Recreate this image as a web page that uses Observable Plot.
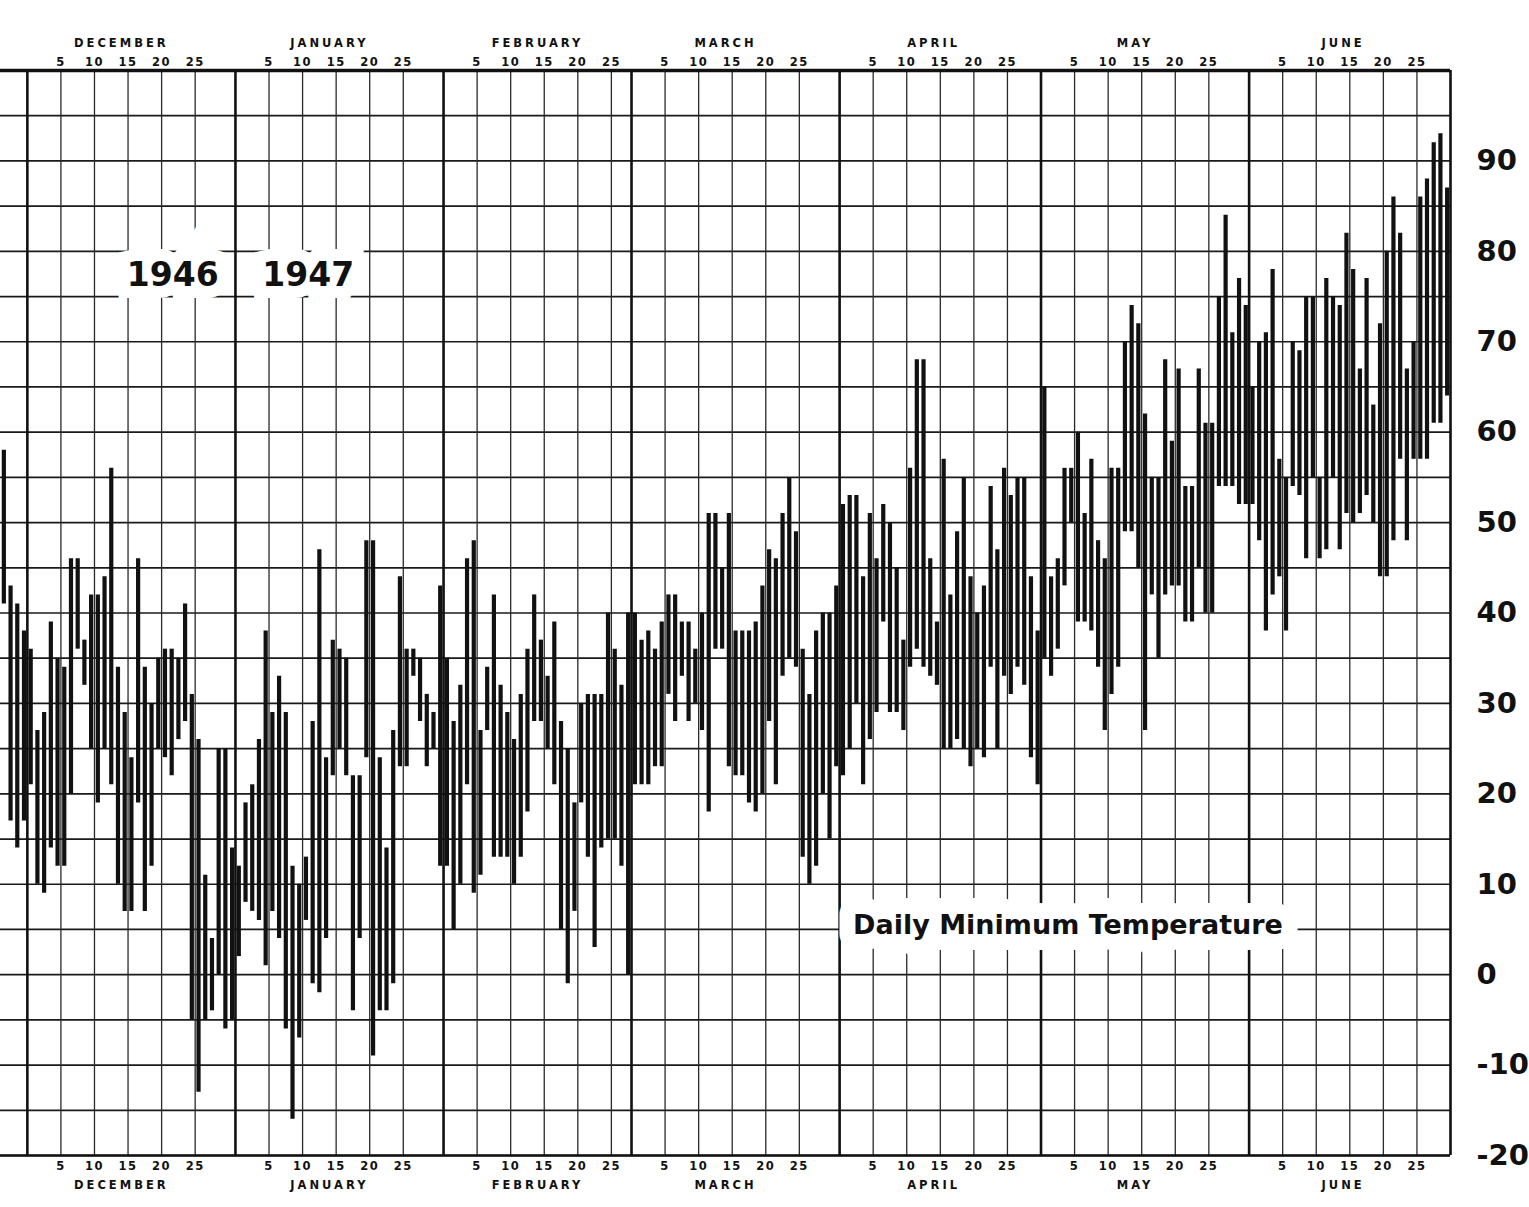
<!DOCTYPE html>
<html>
<head>
<meta charset="utf-8">
<script src="https://cdn.jsdelivr.net/npm/d3@7"></script>
<script src="https://cdn.jsdelivr.net/npm/@observablehq/plot@0.6"></script>
<style>
  html, body { margin: 0; padding: 0; background: #ffffff; }
  #chart svg { display: block; }
  .daylab text { letter-spacing: 1.5px; }
  .monthlab text { letter-spacing: 3px; }
</style>
</head>
<body>
<div id="chart"></div>
<script>
// ---- data ----
const startDate = "1946-11-27";      // first day shown
const endDate = "1947-07-01";        // end of the chart (after June 30)

// daily low / high of each bar, Nov 27 1946 ... Jun 30 1947
const lows = [
  41, 17, 14, 17,
  21, 10, 9, 14, 12, 12, 20, 36, 32, 25, 19, 25, 21, 10, 7, 7, 19, 7, 12, 25, 24, 22, 26, 28, -5, -13, -5, -4, 0, -6, -5,
  2, 8, 7, 6, 1, 7, 4, -6, -16, -7, 6, -1, -2, 4, 22, 25, 22, -4, 4, 24, -9, -4, -4, -1, 23, 23, 33, 28, 23, 25, 12,
  12, 5, 10, 21, 9, 11, 27, 13, 13, 13, 10, 13, 18, 28, 28, 25, 21, 5, -1, 7, 19, 13, 3, 14, 15, 15, 12, 0,
  21, 21, 21, 23, 23, 31, 28, 33, 28, 30, 27, 18, 36, 36, 23, 22, 22, 19, 18, 20, 28, 21, 33, 35, 34, 13, 10, 12, 20, 15, 23,
  22, 25, 30, 21, 26, 29, 39, 29, 29, 27, 34, 36, 34, 33, 32, 25, 25, 26, 25, 23, 25, 24, 34, 25, 33, 31, 34, 32, 24, 21,
  35, 33, 36, 43, 50, 39, 39, 38, 34, 27, 31, 34, 49, 49, 45, 27, 42, 35, 42, 43, 43, 39, 39, 45, 40, 40, 54, 54, 54, 52, 52,
  52, 48, 38, 42, 44, 38, 54, 53, 46, 55, 46, 47, 55, 47, 51, 50, 51, 53, 50, 44, 44, 48, 57, 48, 57, 57, 57, 61, 61, 64
];
const highs = [
  58, 43, 41, 38,
  36, 27, 29, 39, 35, 34, 46, 46, 37, 42, 42, 44, 56, 34, 29, 24, 46, 34, 30, 35, 36, 36, 35, 41, 31, 26, 11, 4, 25, 25, 14,
  12, 19, 21, 26, 38, 29, 33, 29, 12, 10, 13, 28, 47, 24, 37, 36, 35, 22, 22, 48, 48, 24, 14, 27, 44, 36, 36, 35, 31, 29, 43,
  35, 28, 32, 46, 48, 27, 34, 42, 32, 29, 26, 31, 36, 42, 37, 33, 39, 28, 25, 19, 30, 31, 31, 31, 40, 36, 32, 40,
  40, 37, 38, 36, 39, 42, 42, 39, 39, 36, 40, 51, 51, 45, 51, 38, 38, 38, 39, 43, 47, 46, 51, 55, 49, 36, 31, 38, 40, 40, 43,
  52, 53, 53, 44, 51, 46, 52, 50, 45, 37, 56, 68, 68, 46, 39, 57, 42, 49, 55, 44, 40, 43, 54, 47, 56, 53, 55, 55, 44, 38,
  65, 44, 46, 56, 56, 60, 51, 57, 48, 46, 56, 56, 70, 74, 72, 62, 55, 55, 68, 59, 67, 54, 54, 67, 61, 61, 75, 84, 71, 77, 74,
  65, 70, 71, 78, 57, 55, 70, 69, 75, 75, 55, 77, 75, 74, 82, 78, 67, 77, 63, 72, 80, 86, 82, 67, 70, 86, 88, 92, 93, 87
];

// axis / labels
const monthNames = ["DECEMBER", "JANUARY", "FEBRUARY", "MARCH", "APRIL", "MAY", "JUNE"];
const monthStarts = ["1946-12-01", "1947-01-01", "1947-02-01", "1947-03-01", "1947-04-01", "1947-05-01", "1947-06-01", "1947-07-01"];
const dayTicks = [5, 10, 15, 20, 25];
const tempTicks = [-20, -10, 0, 10, 20, 30, 40, 50, 60, 70, 80, 90];
const gridTemps = [-20, -15, -10, -5, 0, 5, 10, 15, 20, 25, 30, 35, 40, 45, 50, 55, 60, 65, 70, 75, 80, 85, 90, 95, 100];
const chartTitle = "Daily Minimum Temperature";
const titleAt = { date: "1947-04-03", temp: 5.5 };
const yearLabels = ["1946", "1947"];
const yearAt = { before: "1946-12-29T12:00", after: "1947-01-05", temp: 77.3 };

// ---- build tables ----
const parse = d3.isoParse;
const start = parse(startDate);
const days = lows.map((lo, i) => ({
  date: d3.utcHour.offset(d3.utcDay.offset(start, i), 12),
  lo, hi: highs[i]
}));
const months = monthStarts.map(parse);
const dayLines = months.slice(0, 7).flatMap(m => dayTicks.map(k => ({ date: d3.utcDay.offset(m, k), label: String(k) })));
const monthLabelData = monthNames.map((name, i) => ({ date: d3.utcDay.offset(months[i], 14), name }));

const W = 1529, H = 1207;

const chart = Plot.plot({
  width: W,
  height: H,
  marginLeft: 0,
  marginRight: 79,
  marginTop: 70,
  marginBottom: 52,
  style: { fontFamily: "DejaVu Sans, sans-serif", background: "#ffffff", color: "#111" },
  x: { type: "utc", domain: [parse(startDate), parse(endDate)], axis: null },
  y: { domain: [-20, 100], axis: null },
  marks: [
    // grid
    Plot.ruleY(gridTemps, { stroke: "#1a1a1a", strokeWidth: 1.7 }),
    Plot.ruleX(dayLines, { x: "date", stroke: "#2a2a2a", strokeWidth: 1.3 }),
    Plot.ruleX(months, { stroke: "#111", strokeWidth: 2.6 }),
    Plot.ruleY([100], { stroke: "#111", strokeWidth: 3.4 }),
    Plot.ruleY([-20], { stroke: "#111", strokeWidth: 2.4 }),
    // daily bars
    Plot.ruleX(days, { x: "date", y1: "lo", y2: "hi", stroke: "#111", strokeWidth: 4.2 }),
    // year labels
    Plot.text([yearLabels[0]], { x: parse(yearAt.before), y: yearAt.temp, text: d => d, textAnchor: "end",
      fontSize: 33, fontWeight: "bold", fill: "#111", stroke: "#ffffff", strokeWidth: 24, strokeLinejoin: "miter" }),
    Plot.text([yearLabels[1]], { x: parse(yearAt.after), y: yearAt.temp, text: d => d, textAnchor: "start",
      fontSize: 33, fontWeight: "bold", fill: "#111", stroke: "#ffffff", strokeWidth: 24, strokeLinejoin: "miter" }),
    // title inside the chart
    Plot.text([chartTitle], { x: parse(titleAt.date), y: titleAt.temp, text: d => d, textAnchor: "start",
      fontSize: 27, fontWeight: "bold", fill: "#111", stroke: "#ffffff", strokeWidth: 32 }),
    // top axis
    Plot.text(dayLines, { x: "date", text: "label", frameAnchor: "top", dy: -13, fontSize: 11.5, fontWeight: "bold", className: "daylab" }),
    Plot.text(monthLabelData, { x: "date", text: "name", frameAnchor: "top", dy: -32, fontSize: 11.5, fontWeight: "bold", className: "monthlab" }),
    // bottom axis
    Plot.text(dayLines, { x: "date", text: "label", frameAnchor: "bottom", dy: 14, fontSize: 11.5, fontWeight: "bold", className: "daylab" }),
    Plot.text(monthLabelData, { x: "date", text: "name", frameAnchor: "bottom", dy: 33, fontSize: 11.5, fontWeight: "bold", className: "monthlab" }),
    // right temperature axis
    Plot.axisY(tempTicks, { anchor: "right", tickSize: 0, tickPadding: 26, fontSize: 29, fontWeight: "bold", label: null, tickFormat: d => String(d) })
  ]
});

document.getElementById("chart").appendChild(chart);
</script>
</body>
</html>
